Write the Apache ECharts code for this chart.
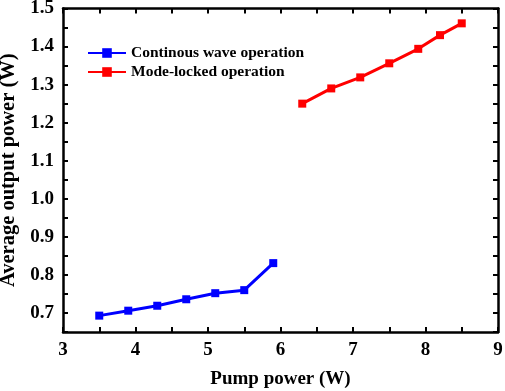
<!DOCTYPE html>
<html>
<head>
<meta charset="utf-8">
<script src="https://cdn.jsdelivr.net/npm/echarts@6/dist/echarts.min.js"></script>
<style>html,body{margin:0;padding:0;background:#fff;}#c{width:505px;height:391px;}</style>
</head>
<body>
<div id="c"></div>
<script>
var cwPump = [3.5, 3.9, 4.3, 4.7, 5.1, 5.5, 5.9];
var cwPower = [0.693, 0.706, 0.719, 0.736, 0.752, 0.760, 0.831];
var mlPump = [6.3, 6.7, 7.1, 7.5, 7.9, 8.2, 8.5];
var mlPower = [1.250, 1.290, 1.319, 1.356, 1.394, 1.430, 1.461];
var seriesNames = ['Continous wave operation', 'Mode-locked operation'];
var xTitle = 'Pump power (W)';
var yTitle = 'Average output power (W)';

function pairs(xs, ys) { return xs.map(function (x, i) { return [x, ys[i]]; }); }
var FONT = '"Liberation Serif", "Times New Roman", serif';
function isMult(v, step) { var r = v / step; return Math.abs(r - Math.round(r)) < 1e-6; }

var axisLine = { show: true, onZero: false, lineStyle: { color: '#000', width: 2.5 } };
var axisTick = { show: true, inside: true, length: 5, lineStyle: { color: '#000', width: 2 } };

var chart = echarts.init(document.getElementById('c'), null, { renderer: 'canvas' });
chart.setOption({
  animation: false,
  backgroundColor: '#fff',
  grid: { left: 63, right: 7, top: 8.5, bottom: 59, containLabel: false, outerBoundsMode: 'none' },
  legend: {
    orient: 'vertical', left: 87, top: 45, itemGap: 3, padding: 0,
    itemWidth: 38, itemHeight: 12,
    textStyle: { fontFamily: FONT, fontWeight: 'bold', fontSize: 15.5, color: '#000' },
    data: seriesNames
  },
  xAxis: [{
    type: 'value', min: 3, max: 9, interval: 0.5,
    name: xTitle, nameLocation: 'middle', nameGap: 38,
    nameTextStyle: { fontFamily: FONT, fontWeight: 'bold', fontSize: 19, color: '#000' },
    axisLine: axisLine, axisTick: axisTick, splitLine: { show: false },
    axisLabel: { margin: 9, fontFamily: FONT, fontWeight: 'bold', fontSize: 19, color: '#000',
      formatter: function (v) { return isMult(v, 1) ? String(Math.round(v)) : ''; } }
  }, {
    type: 'value', min: 3, max: 9, interval: 0.5, position: 'top',
    axisLine: axisLine, axisTick: axisTick, splitLine: { show: false }, axisLabel: { show: false }
  }],
  yAxis: [{
    type: 'value', min: 0.65, max: 1.5, interval: 0.05,
    name: yTitle, nameLocation: 'middle', nameGap: 40, nameRotate: 90,
    nameTextStyle: { fontFamily: FONT, fontWeight: 'bold', fontSize: 20.5, color: '#000' },
    axisLine: axisLine, axisTick: axisTick, splitLine: { show: false },
    axisLabel: { margin: 9, fontFamily: FONT, fontWeight: 'bold', fontSize: 19, color: '#000',
      formatter: function (v) { return isMult(v, 0.1) ? v.toFixed(1) : ''; } }
  }, {
    type: 'value', min: 0.65, max: 1.5, interval: 0.05, position: 'right',
    axisLine: axisLine, axisTick: axisTick, splitLine: { show: false }, axisLabel: { show: false }
  }],
  series: [{
    name: seriesNames[0], type: 'line', data: pairs(cwPump, cwPower),
    symbol: 'rect', symbolSize: 8, color: '#0000ff',
    lineStyle: { width: 3, color: '#0000ff' }, itemStyle: { color: '#0000ff' }
  }, {
    name: seriesNames[1], type: 'line', data: pairs(mlPump, mlPower),
    symbol: 'rect', symbolSize: 8, color: '#ff0000',
    lineStyle: { width: 3, color: '#ff0000' }, itemStyle: { color: '#ff0000' }
  }]
});
</script>
</body>
</html>
